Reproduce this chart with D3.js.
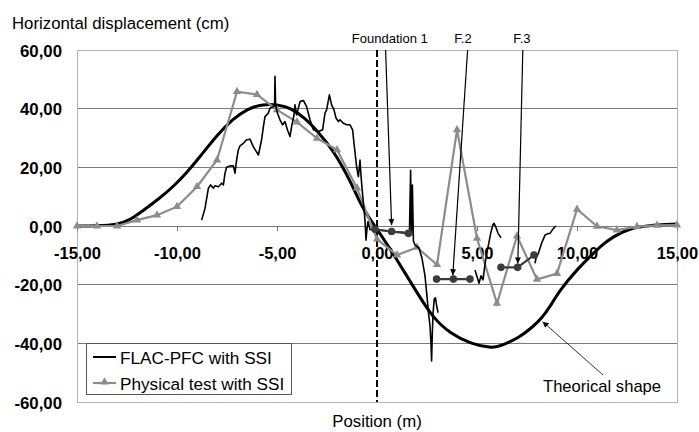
<!DOCTYPE html>
<html>
<head>
<meta charset="utf-8">
<script src="https://cdn.jsdelivr.net/npm/d3@7/dist/d3.min.js"></script>
<style>
  html, body { margin: 0; padding: 0; background: #fff; }
  svg { display: block; font-family: "Liberation Sans", Arial, sans-serif; }
</style>
</head>
<body>
<svg id="chart" width="699" height="432"></svg>
<script>
// ---------------- data ----------------
const xTicks = [-15, -10, -5, 0, 5, 10, 15];
const yTicks = [-60, -40, -20, 0, 20, 40, 60];

const theoreticalShape = [
  [-15, 0], [-14, 0], [-13, 0.4], [-12.35, 2], [-11.7, 5.2], [-10.9, 9.3], [-10.2, 13.3], [-9.5, 18.3], [-8.85, 23.6],
  [-8, 31], [-7.2, 36.5], [-6.5, 39.9], [-5.7, 41.6], [-4.9, 41.3], [-4.35, 40.4], [-3.6, 36.8], [-3, 32.5],
  [-2.2, 26], [-1.35, 15.7], [-0.7, 5.5], [0, -1], [0.82, -9.5], [1.98, -22.5],
  [2.78, -31.2], [3.65, -36.6], [4.7, -40.2], [5.7, -41.6], [6.15, -41], [7.15, -37.9],
  [7.8, -34.3], [8.23, -31.5], [8.65, -27.5], [9.15, -21.8], [9.98, -15], [10.65, -10.5],
  [11.15, -7], [11.8, -3.6], [12.65, -0.8], [13.5, 0.2], [15, 0.7]
];

const physicalX = [-15,-14,-13,-12,-11,-10,-9,-8,-7,-6,-5,-4,-3,-2,-1,0,1,2,3,4,5,6,7,8,9,10,11,12,13,14,15];
const physicalY = [0,0,0,2,3.7,6.6,13.4,22.5,45.8,44.8,39.6,35.4,29.9,26,12.9,-4.5,-9.9,-7.3,-13.2,32.8,-4.2,-26.4,-3.4,-18.2,-16.2,5.7,-0.1,-1.4,-0.2,0.2,0.3];

// FLAC-PFC simulation (null = gap between pieces)
const flacPfc = [
  [-8.77,2.0],[-8.6,6.0],[-8.43,12.9],[-8.32,14],[-8.18,12.9],[-8.1,13.7],[-7.93,13.4],[-7.77,14.6],
  [-7.68,14],[-7.6,18],[-7.52,20],[-7.35,20.5],[-7.18,20.5],[-7.1,18],[-7.02,22.5],[-6.93,26],
  [-6.85,27.3],[-6.68,28.2],[-6.52,29.4],[-6.35,29.6],[-6.18,27],[-5.93,24.2],[-5.77,29.4],
  [-5.68,33.9],[-5.6,37.3],[-5.43,38.5],[-5.35,40.2],[-5.18,40.7],[-5.12,41],[-5.1,51],[-5.07,41.3],
  [-4.98,38.5],[-4.85,36.2],[-4.72,34.5],[-4.6,35.6],[-4.48,32.8],[-4.35,30.5],[-4.27,33.9],
  [-4.15,37.9],[-4.1,41.3],[-4.02,37.9],[-3.85,42.4],[-3.68,42.8],[-3.52,40.7],[-3.35,36.2],
  [-3.18,32.8],[-2.93,32.2],[-2.72,32.8],[-2.6,38.5],[-2.52,39.6],[-2.38,44.7],[-2.27,41.3],
  [-2.15,39.6],[-2.05,36.8],[-1.93,35.6],[-1.85,36.2],[-1.68,35],[-1.52,34.5],[-1.35,34.5],
  [-1.22,32.8],[-1.15,28.2],[-1.02,20.2],[-0.93,16.8],[-0.85,22.5],[-0.82,19.1],[-0.77,14.6],
  [-0.68,7.7],[-0.6,2],[-0.55,-4.8],[-0.5,-1],[-0.45,1.5],[-0.35,-1.2],[-0.1,-1.3],[0.7,-1.8],
  [1.55,-2.3],[1.62,-3.5],[1.68,19],[1.72,-3],[1.77,14],[1.82,-5],[1.9,-6.5],[2.1,-7.5],
  [2.25,-11],[2.4,-17],[2.5,-24],[2.58,-30],[2.65,-34],[2.7,-40],[2.73,-46],[2.76,-38],
  [2.8,-30],[2.86,-25],[2.92,-24.5],[2.98,-27],[3.05,-29.5],
  null,
  [4.9,-15],[5.1,-19.5],[5.2,-17],[5.3,-18.4],[5.4,-13],[5.5,-9],[5.6,-5.5],[5.7,-2],
  [5.8,0.5],[5.85,0.9],[5.95,-0.5],[6.05,-2.5],[6.2,-4],
  null,
  [7.9,-12.7],[7.95,-11],[8.07,-9.3],[8.23,-5.9],[8.4,-3.1],[8.55,-2.6],[8.65,-2.5],[8.82,-0.8],[8.95,0]
];

const foundation1 = [[-0.1,-1.1],[0.73,-1.9],[1.57,-2.5]];
const foundation2 = [[2.98,-18.1],[3.82,-18.1],[4.65,-18.1]];
const foundation3 = [[6.2,-14.1],[7.03,-14.1],[7.85,-9.9]];

const annotationLabels = ["Foundation 1", "F.2", "F.3"];
const annotationLabelX = [0.64, 4.3, 7.24];
const annotationFrom = [[0.43, 60], [4.53, 60], [7.29, 60]];
const annotationTo = [[0.73, 0.3], [3.79, -16.8], [7.04, -12.8]];

const theoLabel = "Theorical shape";
const theoArrowFrom = [11.3, -50.8];
const theoArrowTo = [8.28, -32.6];

const legendLabels = ["FLAC-PFC with SSI", "Physical test with SSI"];
const yTitle = "Horizontal displacement (cm)";
const xTitle = "Position (m)";

// ---------------- drawing ----------------
const svg = d3.select("#chart");
const L = 77, R = 677, T = 50, B = 402;
const x = d3.scaleLinear().domain([-15, 15]).range([L, R]);
const y = d3.scaleLinear().domain([-60, 60]).range([B, T]);
const fmt = d => d3.format(".2f")(d).replace("−", "-").replace(".", ",");

const defs = svg.append("defs");
defs.append("marker").attr("id", "arr").attr("viewBox", "0 0 10 10")
  .attr("refX", 10).attr("refY", 5).attr("markerWidth", 7).attr("markerHeight", 6)
  .attr("markerUnits", "userSpaceOnUse").attr("orient", "auto")
  .append("path").attr("d", "M0,0 L10,5 L0,10 z").attr("fill", "#000");

// gridlines
svg.append("g").selectAll("line").data(yTicks.filter(v => v !== 60 && v !== -60 && v !== 0))
  .join("line")
  .attr("x1", L).attr("x2", R).attr("y1", d => y(d)).attr("y2", d => y(d))
  .attr("stroke", "#7a7a7a").attr("stroke-width", 1).attr("shape-rendering", "crispEdges");

// plot border
svg.append("rect").attr("x", L).attr("y", T).attr("width", R - L).attr("height", B - T)
  .attr("fill", "none").attr("stroke", "#b4b4b4").attr("stroke-width", 1).attr("shape-rendering", "crispEdges");

// y axis labels
const yAxis = d3.axisLeft(y).tickValues(yTicks).tickSize(0).tickPadding(15).tickFormat(fmt);
const gy = svg.append("g").attr("transform", `translate(${L},0)`).call(yAxis);
gy.select(".domain").remove();
gy.selectAll("text").attr("font-size", 16.8).attr("font-weight", "bold").attr("fill", "#000")
  .attr("font-family", "Liberation Sans, Arial, sans-serif").attr("dy", null).attr("y", 6);

// x axis at zero
const xAxis = d3.axisBottom(x).tickValues(xTicks).tickSize(5).tickFormat(fmt);
const gx = svg.append("g").attr("transform", `translate(0,${y(0)})`).call(xAxis);
gx.select(".domain").attr("stroke", "#7a7a7a").attr("shape-rendering", "crispEdges");
gx.selectAll(".tick line").attr("stroke", "#7a7a7a");
gx.selectAll("text").attr("font-size", 16.5).attr("font-weight", "bold").attr("fill", "#000")
  .attr("font-family", "Liberation Sans, Arial, sans-serif").attr("dy", null).attr("y", 33);

// dashed vertical at x = 0
svg.append("line").attr("x1", x(0)).attr("x2", x(0)).attr("y1", T).attr("y2", B)
  .attr("stroke", "#000").attr("stroke-width", 2).attr("stroke-dasharray", "7,3");

// theoretical shape
const lineSmooth = d3.line().x(d => x(d[0])).y(d => y(d[1])).curve(d3.curveBasis);
svg.append("path").datum(theoreticalShape).attr("d", lineSmooth)
  .attr("fill", "none").attr("stroke", "#000").attr("stroke-width", 3);

// physical test
const phys = physicalX.map((v, i) => [v, physicalY[i]]);
const line = d3.line().defined(d => d !== null).x(d => x(d[0])).y(d => y(d[1]));
svg.append("path").datum(phys).attr("d", line)
  .attr("fill", "none").attr("stroke", "#8c8c8c").attr("stroke-width", 2.2);
const tri = d3.symbol().type(d3.symbolTriangle).size(30);
svg.append("g").selectAll("path").data(phys).join("path")
  .attr("d", tri).attr("transform", d => `translate(${x(d[0])},${y(d[1])})`)
  .attr("fill", "#8c8c8c");

// FLAC-PFC
svg.append("path").datum(flacPfc).attr("d", line)
  .attr("fill", "none").attr("stroke", "#000").attr("stroke-width", 1.6).attr("stroke-linejoin", "round");

// foundations
[foundation1, foundation2, foundation3].forEach(f => {
  svg.append("path").datum(f).attr("d", line)
    .attr("fill", "none").attr("stroke", "#3c3c3c").attr("stroke-width", 2.2);
  svg.append("g").selectAll("circle").data(f).join("circle")
    .attr("cx", d => x(d[0])).attr("cy", d => y(d[1])).attr("r", 3.8).attr("fill", "#3c3c3c");
});

// annotations
annotationLabels.forEach((lab, i) => {
  svg.append("text").attr("x", x(annotationLabelX[i])).attr("y", T - 6.7)
    .attr("text-anchor", "middle").attr("font-size", 13).attr("fill", "#000").text(lab);
  svg.append("line")
    .attr("x1", x(annotationFrom[i][0])).attr("y1", y(annotationFrom[i][1]))
    .attr("x2", x(annotationTo[i][0])).attr("y2", y(annotationTo[i][1]))
    .attr("stroke", "#000").attr("stroke-width", 1.2).attr("marker-end", "url(#arr)");
});
svg.append("line")
  .attr("x1", x(theoArrowFrom[0])).attr("y1", y(theoArrowFrom[1]))
  .attr("x2", x(theoArrowTo[0])).attr("y2", y(theoArrowTo[1]))
  .attr("stroke", "#000").attr("stroke-width", 0.8).attr("marker-end", "url(#arr)");
svg.append("text").attr("x", 543).attr("y", 392)
  .attr("font-size", 16.6).attr("fill", "#000").text(theoLabel);

// legend
const lg = svg.append("g");
lg.append("rect").attr("x", 86.5).attr("y", 343.5).attr("width", 204.5).attr("height", 51)
  .attr("fill", "#fff").attr("stroke", "#555").attr("stroke-width", 1).attr("shape-rendering", "crispEdges");
lg.append("line").attr("x1", 93).attr("x2", 116).attr("y1", 357).attr("y2", 357)
  .attr("stroke", "#000").attr("stroke-width", 2);
lg.append("line").attr("x1", 93).attr("x2", 116).attr("y1", 383).attr("y2", 383)
  .attr("stroke", "#8c8c8c").attr("stroke-width", 2.2);
lg.append("path").attr("d", tri).attr("transform", "translate(104.5,382)").attr("fill", "#8c8c8c");
legendLabels.forEach((t, i) => {
  lg.append("text").attr("x", 120).attr("y", 363.5 + i * 26)
    .attr("font-size", 17.2).attr("fill", "#000").text(t);
});

// titles
svg.append("text").attr("x", 12).attr("y", 29).attr("font-size", 16.8).attr("fill", "#000").text(yTitle);
svg.append("text").attr("x", x(0)).attr("y", 427).attr("text-anchor", "middle")
  .attr("font-size", 16.8).attr("fill", "#000").text(xTitle);
</script>
</body>
</html>
